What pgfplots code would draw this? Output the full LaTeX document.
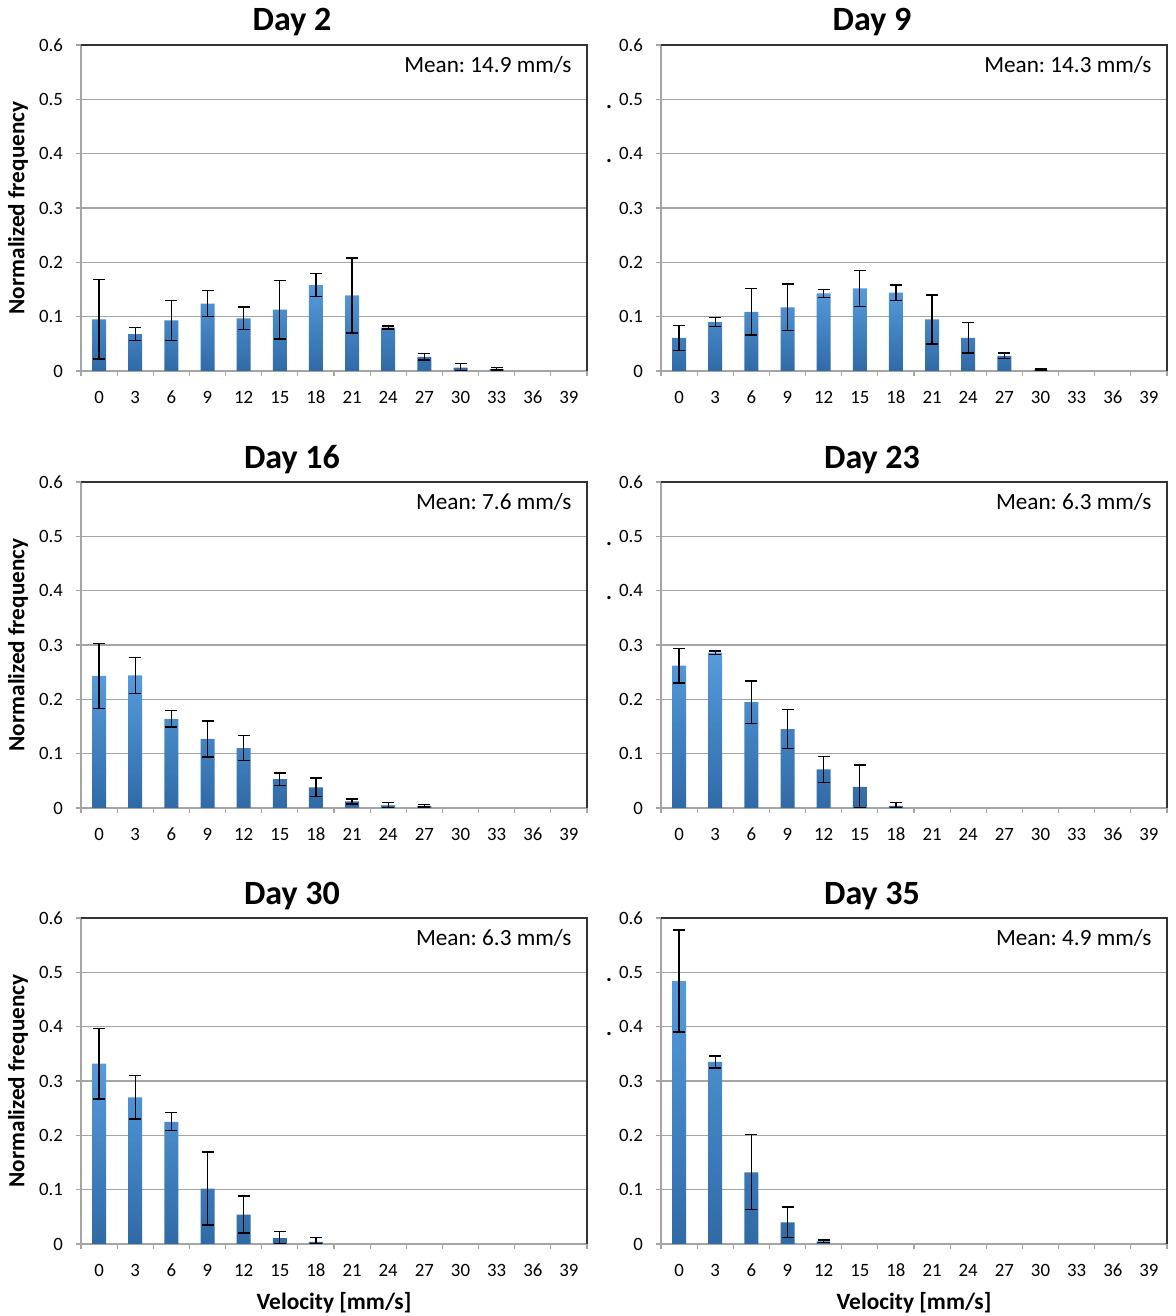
\documentclass[border=0pt]{standalone}
\usepackage{pgfplots}
\pgfplotsset{compat=1.18}
\usepackage{fontspec}
\setmainfont{Carlito}
\frenchspacing
\definecolor{barTop}{RGB}{86,155,220}
\definecolor{barBot}{RGB}{48,106,166}
\definecolor{gridgray}{RGB}{165,165,165}
\pgfplotsset{
  panel/.style={
    scale only axis, width=253pt, height=163pt,
    anchor=north west,
    clip mode=individual,
    xmin=-0.5, xmax=13.5, ymin=0, ymax=0.6,
    xtick={0,...,13},
    xticklabels={0,3,6,9,12,15,18,21,24,27,30,33,36,39},
    ytick={0,0.1,0.2,0.3,0.4,0.5,0.6},
    yticklabels={0,0.1,0.2,0.3,0.4,0.5,0.6},
    minor xtick={-0.5,0.5,...,13.5},
    xtick pos=bottom, ytick pos=left,
    tick align=outside,
    major x tick style={draw=none},
    minor x tick style={gridgray, line width=0.6pt},
    y tick style={gridgray, line width=0.6pt},
    major tick length=2.5pt, minor tick length=2.5pt,
    ymajorgrids, major grid style={gridgray, line width=0.6pt},
    axis line style={gridgray, line width=0.6pt},
    tick label style={font=\fontsize{9.4}{10}\selectfont},
    yticklabel style={xshift=-3pt},
    xticklabel style={yshift=-4pt},
    title style={font=\bfseries\fontsize{17}{19}\selectfont, at={(0.5,1)}, anchor=base, xshift=-21pt, yshift=1pt},
    every axis y label/.style={at={(rel axis cs:0,0.5)}, xshift=-31.5pt, rotate=90, anchor=center, font=\bfseries\fontsize{11.6}{13}\selectfont},
    every axis x label/.style={at={(rel axis cs:0.5,0)}, yshift=-29.5pt, anchor=center, font=\bfseries\fontsize{11.7}{13}\selectfont},
    after end axis/.code={\draw[black!80, line width=0.7pt] (rel axis cs:0,1) -- (rel axis cs:1,1) -- (rel axis cs:1,0);},
  },
  bars/.style={ybar, bar width=7pt, bar shift=0pt, draw=none, top color=barTop, bottom color=barBot},
  errs/.style={draw=none, mark=none, forget plot,
    error bars/.cd, y dir=both, y explicit,
    error bar style={draw=black, solid, line width=0.7pt},
    error mark options={draw=black, rotate=90, mark size=3pt, line width=0.7pt}},
}
\newcommand{\meanlabel}[1]{\node[anchor=east, inner sep=0pt, font=\fontsize{11.6}{12}\selectfont] at (rel axis cs:0.97,0.939) {#1};}
\newcommand{\straydots}{%
  \node[anchor=base, font=\bfseries\fontsize{11}{12}\selectfont, inner sep=0pt] at ([xshift=-26pt,yshift=-4.5pt]rel axis cs:0,0.8333) {.};
  \node[anchor=base, font=\bfseries\fontsize{11}{12}\selectfont, inner sep=0pt] at ([xshift=-26pt,yshift=-4.5pt]rel axis cs:0,0.6667) {.};}
\begin{document}
\begin{tikzpicture}
\path[use as bounding box] (0,0) rectangle (588pt,-658pt);
% Day 2
\begin{axis}[panel, at={(40.5pt,-22.5pt)}, title={Day 2}, ylabel={Normalized frequency}]
\addplot[bars] coordinates {(0,0.095) (1,0.068) (2,0.093) (3,0.124) (4,0.097) (5,0.113) (6,0.158) (7,0.139) (8,0.080) (9,0.026) (10,0.006) (11,0.004)};
\addplot[errs] coordinates {(0,0.095) +- (0,0.073) (1,0.068) +- (0,0.012) (2,0.093) +- (0,0.037) (3,0.124) +- (0,0.024) (4,0.097) +- (0,0.021) (5,0.113) +- (0,0.054) (6,0.158) +- (0,0.021) (7,0.139) +- (0,0.069) (8,0.080) +- (0,0.003) (9,0.026) +- (0,0.006) (10,0.006) += (0,0.008) -= (0,0.006) (11,0.004) +- (0,0.002)};
\meanlabel{Mean: 14.9 mm/s}
\end{axis}
% Day 9
\begin{axis}[panel, at={(330.5pt,-22.5pt)}, title={Day 9}]
\addplot[bars] coordinates {(0,0.061) (1,0.090) (2,0.109) (3,0.117) (4,0.143) (5,0.152) (6,0.144) (7,0.095) (8,0.061) (9,0.028) (10,0.002)};
\addplot[errs] coordinates {(0,0.061) +- (0,0.023) (1,0.090) +- (0,0.008) (2,0.109) +- (0,0.043) (3,0.117) +- (0,0.043) (4,0.143) +- (0,0.0075) (5,0.152) +- (0,0.033) (6,0.144) +- (0,0.014) (7,0.095) +- (0,0.045) (8,0.061) +- (0,0.028) (9,0.028) +- (0,0.005) (10,0.002) +- (0,0.002)};
\meanlabel{Mean: 14.3 mm/s}
\straydots
\end{axis}
% Day 16
\begin{axis}[panel, at={(40.5pt,-241pt)}, title={Day 16}, ylabel={Normalized frequency}]
\addplot[bars] coordinates {(0,0.243) (1,0.244) (2,0.164) (3,0.127) (4,0.110) (5,0.053) (6,0.038) (7,0.012) (8,0.005) (9,0.004)};
\addplot[errs] coordinates {(0,0.243) +- (0,0.060) (1,0.244) +- (0,0.033) (2,0.164) +- (0,0.015) (3,0.127) +- (0,0.033) (4,0.110) +- (0,0.023) (5,0.053) +- (0,0.0115) (6,0.038) +- (0,0.017) (7,0.012) +- (0,0.0045) (8,0.005) +- (0,0.005) (9,0.004) +- (0,0.002)};
\meanlabel{Mean: 7.6 mm/s}
\end{axis}
% Day 23
\begin{axis}[panel, at={(330.5pt,-241pt)}, title={Day 23}]
\addplot[bars] coordinates {(0,0.262) (1,0.286) (2,0.195) (3,0.145) (4,0.071) (5,0.039) (6,0.004)};
\addplot[errs] coordinates {(0,0.262) +- (0,0.032) (1,0.286) +- (0,0.003) (2,0.195) +- (0,0.039) (3,0.145) +- (0,0.036) (4,0.071) +- (0,0.024) (5,0.039) += (0,0.040) -= (0,0.039) (6,0.004) += (0,0.006) -= (0,0.004)};
\meanlabel{Mean: 6.3 mm/s}
\straydots
\end{axis}
% Day 30
\begin{axis}[panel, at={(40.5pt,-459pt)}, title={Day 30}, ylabel={Normalized frequency}, xlabel={Velocity [mm/s]}]
\addplot[bars] coordinates {(0,0.332) (1,0.270) (2,0.225) (3,0.102) (4,0.054) (5,0.011) (6,0.004)};
\addplot[errs] coordinates {(0,0.332) +- (0,0.065) (1,0.270) +- (0,0.040) (2,0.225) +- (0,0.0165) (3,0.102) +- (0,0.067) (4,0.054) +- (0,0.034) (5,0.011) += (0,0.012) -= (0,0.011) (6,0.004) += (0,0.008) -= (0,0.004)};
\meanlabel{Mean: 6.3 mm/s}
\end{axis}
% Day 35
\begin{axis}[panel, at={(330.5pt,-459pt)}, title={Day 35}, xlabel={Velocity [mm/s]}]
\addplot[bars] coordinates {(0,0.484) (1,0.335) (2,0.132) (3,0.040) (4,0.005)};
\addplot[errs] coordinates {(0,0.484) +- (0,0.094) (1,0.335) +- (0,0.011) (2,0.132) +- (0,0.069) (3,0.040) +- (0,0.028) (4,0.005) +- (0,0.002)};
\meanlabel{Mean: 4.9 mm/s}
\straydots
\end{axis}
\end{tikzpicture}
\end{document}
